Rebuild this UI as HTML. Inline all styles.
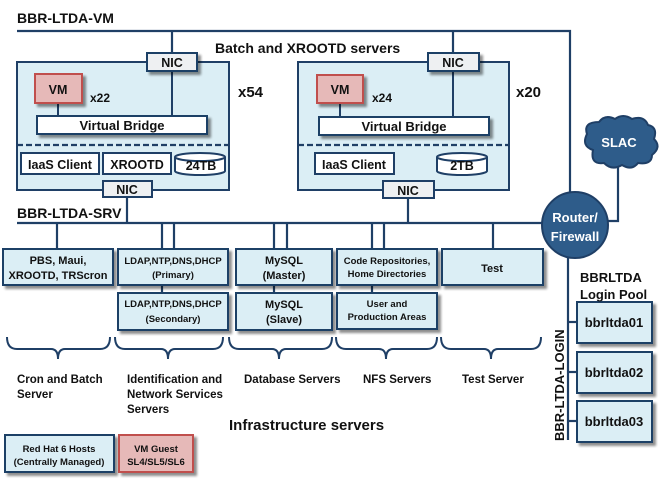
<!DOCTYPE html>
<html><head><meta charset="utf-8"><style>
html,body{margin:0;padding:0;background:#fff;}
svg{display:block;font-family:"Liberation Sans",sans-serif;font-weight:bold;}
</style></head><body>
<svg width="664" height="479" viewBox="0 0 664 479" xmlns="http://www.w3.org/2000/svg">
<defs>
<filter id="sh" x="-10%" y="-10%" width="130%" height="140%"><feOffset dx="3" dy="3" in="SourceAlpha"/><feGaussianBlur stdDeviation="1.2"/><feComponentTransfer><feFuncA type="linear" slope="0.45"/></feComponentTransfer><feMerge><feMergeNode/><feMergeNode in="SourceGraphic"/></feMerge></filter>
</defs>
<g stroke="#1f3f66" stroke-width="2.2" fill="none">
<polyline points="17,31 570,31 570,194"/>
<line x1="172" y1="31" x2="172" y2="116"/>
<line x1="453" y1="31" x2="453" y2="117"/>
<line x1="17" y1="223" x2="544" y2="223"/>
<line x1="127" y1="197" x2="127" y2="223"/>
<line x1="408" y1="198" x2="408" y2="223"/>
<line x1="57" y1="223" x2="57" y2="250"/>
<line x1="162" y1="223" x2="162" y2="250"/>
<line x1="174" y1="223" x2="174" y2="250"/>
<line x1="274" y1="223" x2="274" y2="250"/>
<line x1="287" y1="223" x2="287" y2="250"/>
<line x1="372" y1="223" x2="372" y2="250"/>
<line x1="384" y1="223" x2="384" y2="250"/>
<line x1="493" y1="223" x2="493" y2="250"/>
<line x1="162" y1="285" x2="162" y2="293"/>
<line x1="274" y1="285" x2="274" y2="293"/>
<line x1="372" y1="285" x2="372" y2="293"/>
<polyline points="618,165 618,221 607,221"/>
<line x1="568" y1="255" x2="568" y2="440"/>
<line x1="568" y1="322" x2="578" y2="322"/>
<line x1="568" y1="372" x2="578" y2="372"/>
<line x1="568" y1="421" x2="578" y2="421"/>
</g>
<g stroke="#1f3f66" stroke-width="2">
<rect x="17" y="62" width="212" height="128" fill="#dbeef5"/>
<rect x="298" y="62" width="211" height="128" fill="#dbeef5"/>
</g>
<line x1="172" y1="71" x2="172" y2="116" stroke="#1f3f66" stroke-width="2"/>
<line x1="453" y1="71" x2="453" y2="117" stroke="#1f3f66" stroke-width="2"/>
<line x1="58" y1="103" x2="58" y2="116" stroke="#1f3f66" stroke-width="2"/>
<line x1="340" y1="103" x2="340" y2="117" stroke="#1f3f66" stroke-width="2"/>
<g stroke="#1f3f66" stroke-width="2.2" stroke-dasharray="6,3">
<line x1="17" y1="145" x2="229" y2="145"/>
<line x1="298" y1="145" x2="509" y2="145"/>
</g>
<g stroke="#1f3f66" stroke-width="2" filter="url(#sh)">
<rect x="147" y="53" width="50" height="18" fill="#eef0f2"/>
<rect x="428" y="53" width="51" height="18" fill="#eef0f2"/>
<rect x="35" y="74" width="47" height="29" fill="#e6b9b8" stroke="#c0504d"/>
<rect x="317" y="75" width="46" height="28" fill="#e6b9b8" stroke="#c0504d"/>
<rect x="37" y="116" width="170" height="18" fill="#fff"/>
<rect x="319" y="117" width="170" height="18" fill="#fff"/>
</g>
<g stroke="#1f3f66" stroke-width="2" fill="#fff">
<rect x="21" y="153" width="78" height="21"/>
<rect x="103" y="153" width="68" height="21"/>
<rect x="315" y="153" width="79" height="21"/>
<path d="M175,157 v14 a25,4 0 0 0 50,0 v-14 a25,4 0 0 0 -50,0 a25,4 0 0 0 50,0"/>
<path d="M437,157 v14 a25,4 0 0 0 50,0 v-14 a25,4 0 0 0 -50,0 a25,4 0 0 0 50,0"/>
<rect x="103" y="181" width="49" height="16" fill="#eef0f2"/>
<rect x="383" y="181" width="51" height="17" fill="#eef0f2"/>
</g>
<g stroke="#1f3f66" stroke-width="2" fill="#dbeef5" filter="url(#sh)">
<rect x="3" y="249" width="110" height="36"/>
<rect x="118" y="249" width="110" height="36"/>
<rect x="236" y="249" width="96" height="36"/>
<rect x="337" y="249" width="100" height="36"/>
<rect x="442" y="249" width="101" height="36"/>
<rect x="118" y="293" width="110" height="37"/>
<rect x="236" y="293" width="96" height="37"/>
<rect x="337" y="293" width="100" height="36"/>
<rect x="577" y="302" width="75" height="41"/>
<rect x="577" y="352" width="75" height="41"/>
<rect x="577" y="401" width="75" height="41"/>
<rect x="5" y="435" width="109" height="37"/>
<rect x="119" y="435" width="74" height="37" fill="#e6b9b8" stroke="#c0504d"/>
</g>
<g stroke="#1f3f66" stroke-width="2" fill="none">
<path d="M7,337 q0,12 10,12 h34 q7,0 7,10 q0,-10 7,-10 h35 q10,0 10,-12"/>
<path d="M115,337 q0,12 10,12 h36 q7,0 7,10 q0,-10 7,-10 h38 q10,0 10,-12"/>
<path d="M229,337 q0,12 10,12 h33 q7,0 7,10 q0,-10 7,-10 h36 q10,0 10,-12"/>
<path d="M336,337 q0,12 10,12 h33 q7,0 7,10 q0,-10 7,-10 h34 q10,0 10,-12"/>
<path d="M441,337 q0,12 10,12 h33 q7,0 7,10 q0,-10 7,-10 h33 q10,0 10,-12"/>
</g>
<circle cx="575" cy="225" r="33" fill="#2e5c8a" stroke="#1f3f66" stroke-width="2"/>
<path d="M593,150 q-12,-4 -6,-16 q-4,-12 12,-12 q6,-8 16,-3 q8,-6 17,0 q12,-4 16,6 q10,2 6,14 q8,8 -2,16 q0,10 -14,8 q-6,8 -16,2 q-10,6 -18,-2 q-14,2 -11,-13z" fill="#2e5c8a" stroke="#1f3f66" stroke-width="2"/>
<g fill="#111">
<text x="17" y="23" font-size="14">BBR-LTDA-VM</text>
<text x="17" y="218" font-size="14">BBR-LTDA-SRV</text>
<text x="215" y="53" font-size="14">Batch and XROOTD servers</text>
<text x="238" y="97" font-size="15">x54</text>
<text x="516" y="97" font-size="15">x20</text>
<text x="90" y="102" font-size="12">x22</text>
<text x="372" y="102" font-size="12">x24</text>
<g font-size="12.5" text-anchor="middle">
<text x="172" y="67">NIC</text><text x="453" y="67">NIC</text>
<text x="127" y="194">NIC</text><text x="408" y="195">NIC</text>
<text x="58" y="94">VM</text><text x="340" y="94">VM</text>
<text x="122" y="130" font-size="13">Virtual Bridge</text><text x="404" y="131" font-size="13">Virtual Bridge</text>
<text x="60" y="169">IaaS Client</text><text x="137" y="169">XROOTD</text>
<text x="201" y="170">24TB</text>
<text x="354" y="169">IaaS Client</text><text x="462" y="170">2TB</text>
</g>
<g font-size="11" text-anchor="middle">
<text x="58" y="264">PBS, Maui,</text><text x="58" y="279">XROOTD, TRScron</text>
<text x="173" y="264" font-size="9.5">LDAP,NTP,DNS,DHCP</text><text x="173" y="278" font-size="9.5">(Primary)</text>
<text x="173" y="307" font-size="9.5">LDAP,NTP,DNS,DHCP</text><text x="173" y="322" font-size="9.5">(Secondary)</text>
<text x="284" y="264">MySQL</text><text x="284" y="279">(Master)</text>
<text x="284" y="308">MySQL</text><text x="284" y="323">(Slave)</text>
<text x="387" y="264" font-size="9.5">Code Repositories,</text><text x="387" y="277" font-size="9.5">Home Directories</text>
<text x="387" y="307" font-size="9.5">User and</text><text x="387" y="320" font-size="9.5">Production Areas</text>
<text x="492" y="272">Test</text>
<text x="59" y="452" font-size="9.5">Red Hat 6 Hosts</text><text x="59" y="465" font-size="9.5">(Centrally Managed)</text>
<text x="156" y="452" font-size="9.5">VM Guest</text><text x="156" y="465" font-size="9.5">SL4/SL5/SL6</text>
<text x="614" y="327" font-size="13">bbrltda01</text>
<text x="614" y="377" font-size="13">bbrltda02</text>
<text x="614" y="426" font-size="13">bbrltda03</text>
</g>
<g font-size="11.5">
<text x="17" y="383">Cron and Batch</text><text x="17" y="398">Server</text>
<text x="127" y="383">Identification and</text><text x="127" y="398">Network Services</text><text x="127" y="413">Servers</text>
<text x="244" y="383">Database Servers</text>
<text x="363" y="383">NFS Servers</text>
<text x="462" y="383">Test Server</text>
</g>
<text x="229" y="430" font-size="15">Infrastructure servers</text>
<text x="580" y="282" font-size="13">BBRLTDA</text>
<text x="580" y="299" font-size="13">Login Pool</text>
<text transform="translate(564,441) rotate(-90)" font-size="13">BBR-LTDA-LOGIN</text>
</g>
<g fill="#fff" font-size="13" text-anchor="middle">
<text x="575" y="222">Router/</text><text x="575" y="241">Firewall</text>
<text x="619" y="147">SLAC</text>
</g>
</svg>
</body></html>
